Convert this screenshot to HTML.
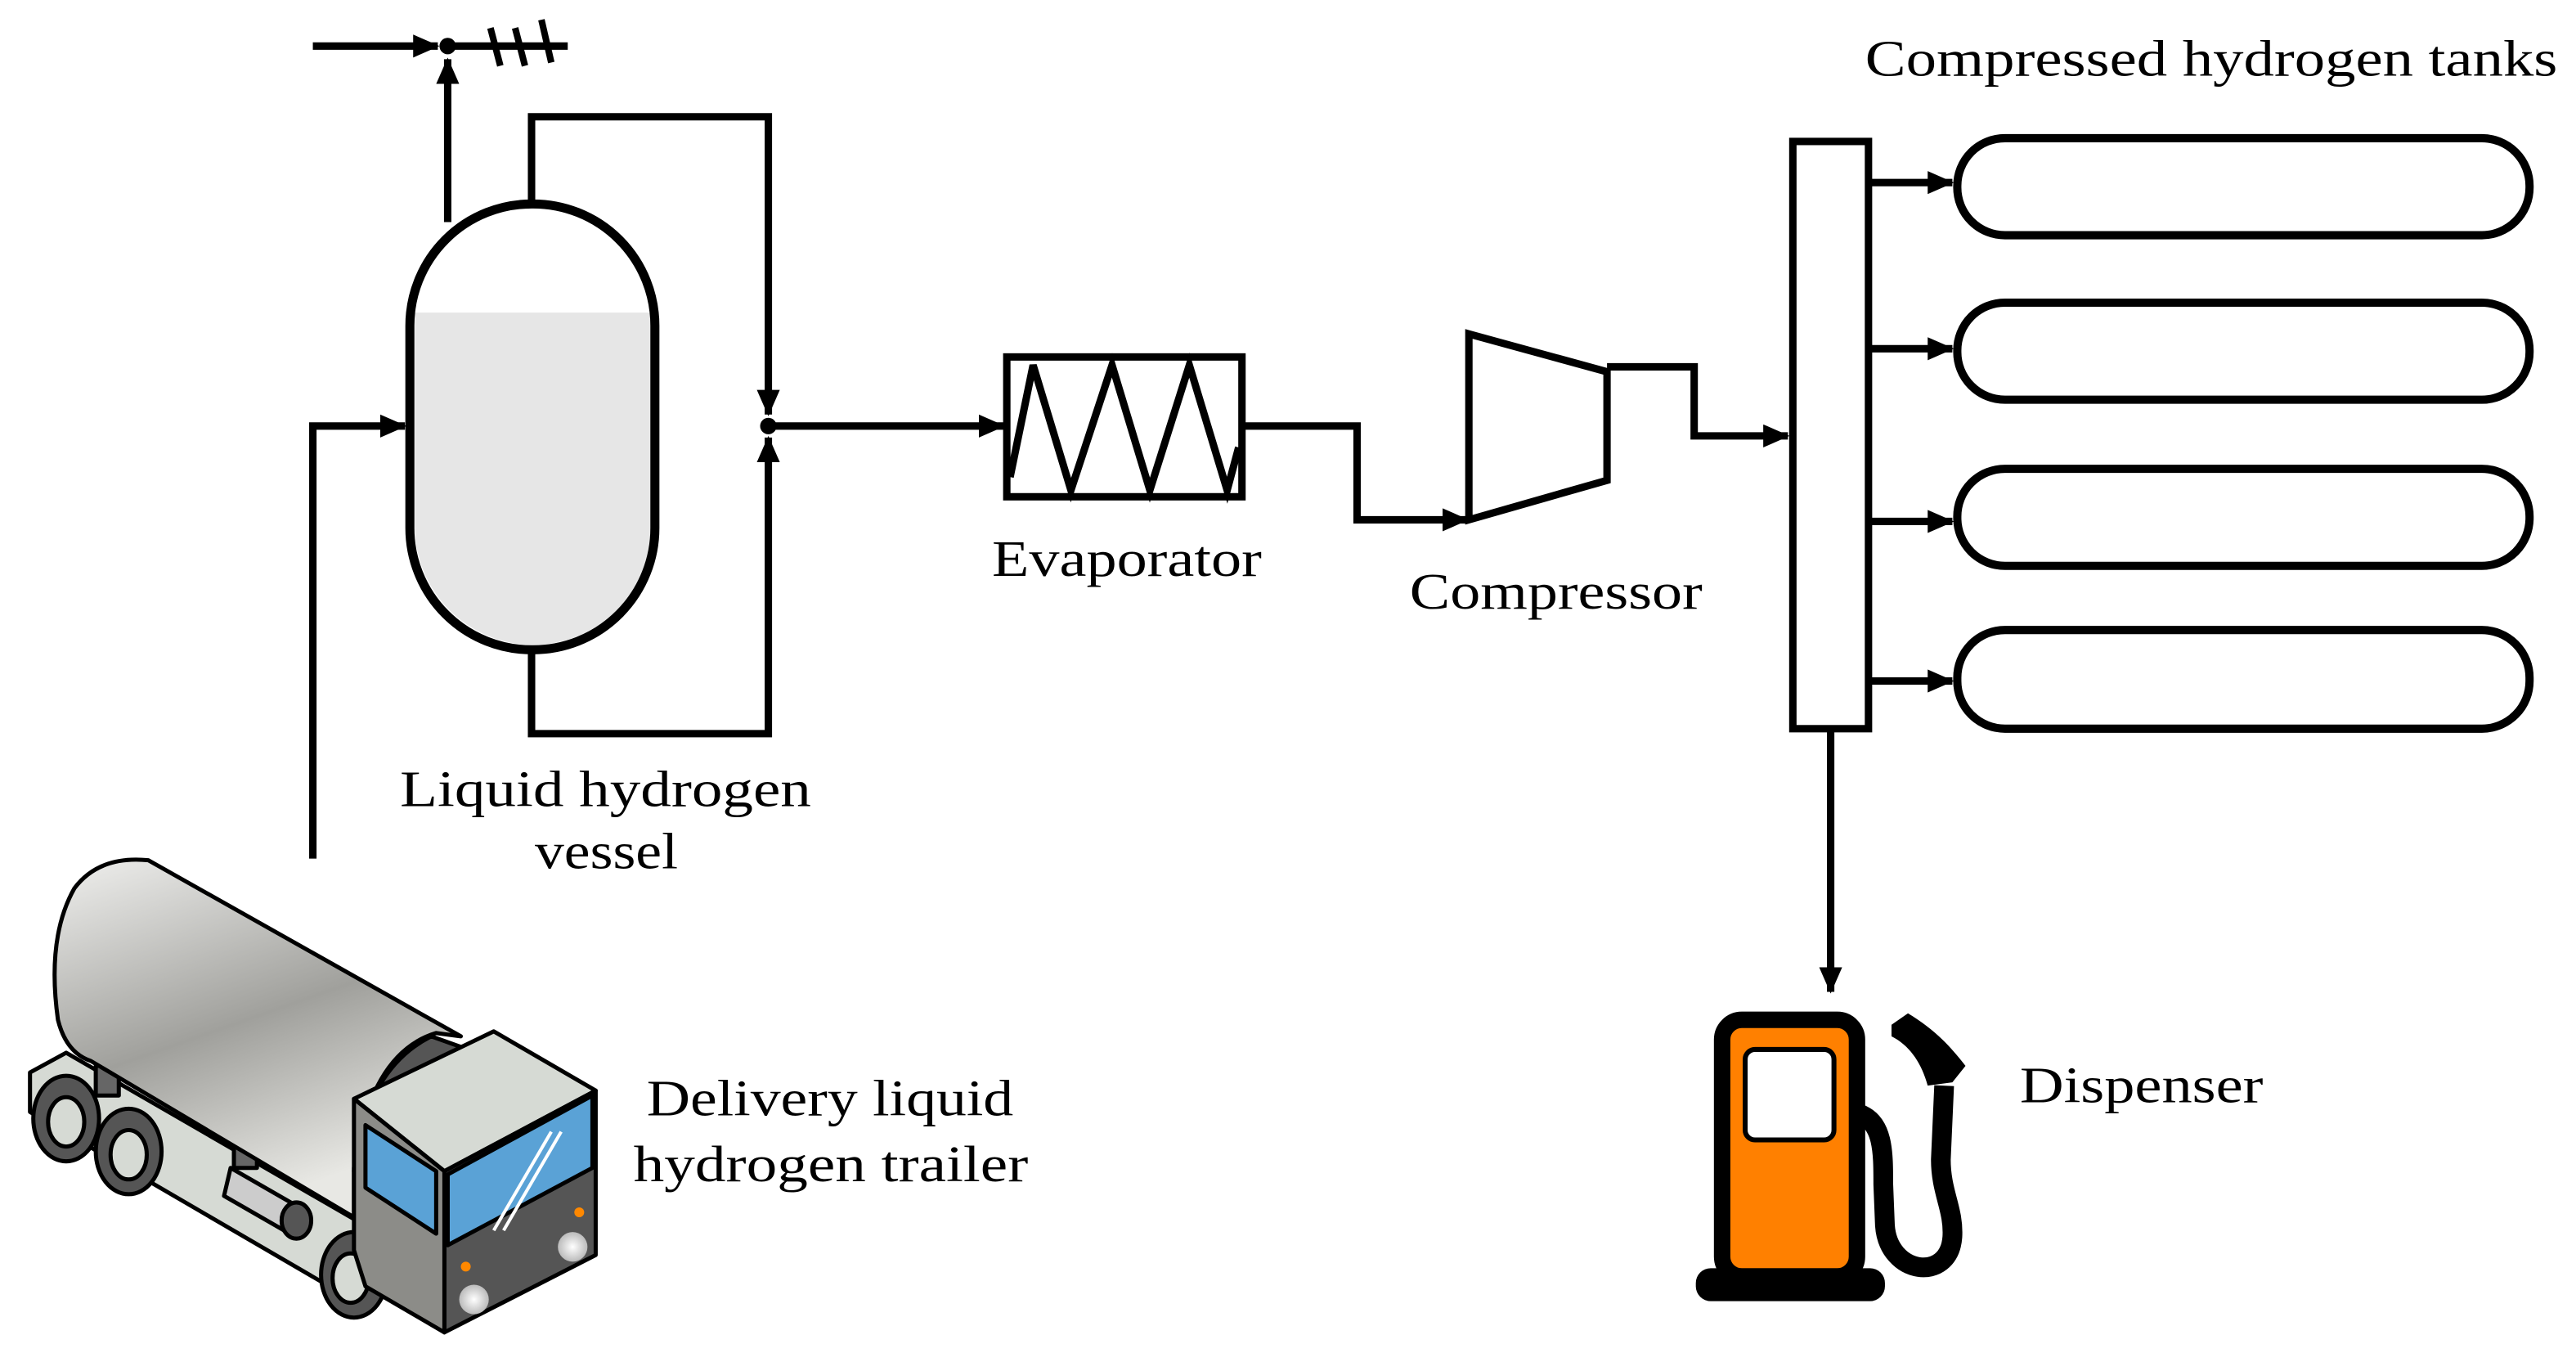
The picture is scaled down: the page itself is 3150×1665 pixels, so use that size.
<!DOCTYPE html>
<html><head><meta charset="utf-8"><style>
html,body{margin:0;padding:0;background:#fff;}
svg{display:block;}
text{font-family:"Liberation Serif",serif;font-size:31px;fill:#000;}
</style></head><body>
<svg width="3150" height="1665" viewBox="0 0 1566 828" xmlns="http://www.w3.org/2000/svg">
<defs>
<marker id="b" markerWidth="16" markerHeight="14" refX="15" refY="7" orient="auto" markerUnits="userSpaceOnUse" viewBox="0 0 16 14"><path d="M0,0 L16,7 L0,14 z" fill="#000"/></marker>
<linearGradient id="tg" x1="0" y1="0" x2="0.4" y2="1"><stop offset="0" stop-color="#f0f0ee"/><stop offset="0.55" stop-color="#a0a09c"/><stop offset="1" stop-color="#e8e8e4"/></linearGradient>
<radialGradient id="hl"><stop offset="0" stop-color="#fff"/><stop offset="1" stop-color="#bbb"/></radialGradient>
</defs>
<g fill="none" stroke="#000" stroke-width="4.5">
<path d="M252,190 H396 V320 A72,72 0 0 1 252,320 Z" fill="#e6e6e6" stroke="none"/>
<rect x="249" y="124" width="149" height="271" rx="74" stroke-width="5.5"/>
<line x1="272" y1="135" x2="272" y2="36" marker-end="url(#b)"/>
<line x1="190" y1="28" x2="266" y2="28" marker-end="url(#b)"/>
<line x1="272" y1="28" x2="345" y2="28"/>
<line x1="298" y1="17" x2="304" y2="40" stroke-width="4"/>
<line x1="313" y1="17" x2="319" y2="40" stroke-width="4"/>
<line x1="329" y1="12" x2="335" y2="38" stroke-width="4"/>
<circle cx="272" cy="28" r="5" fill="#000" stroke="none"/>
<polyline points="323,124 323,71 467,71 467,252" marker-end="url(#b)"/>
<polyline points="323,395 323,446 467,446 467,266" marker-end="url(#b)"/>
<circle cx="467" cy="259" r="5" fill="#000" stroke="none"/>
<line x1="467" y1="259" x2="610" y2="259" marker-end="url(#b)"/>
<polyline points="190,522 190,259 246,259" marker-end="url(#b)"/>
<rect x="612" y="217" width="143" height="85"/>
<polyline points="614,290 628,222 651,298 676,222 699,298 723,222 746,298 753,272"/>
<polyline points="755,259 825,259 825,316 892,316" marker-end="url(#b)"/>
<polygon points="893,203 977,226 977,292 893,316"/>
<polyline points="977,223 1030,223 1030,265 1087,265" marker-end="url(#b)"/>
<rect x="1090" y="86" width="46" height="357"/>
<line x1="1136" y1="111" x2="1187" y2="111" marker-end="url(#b)"/>
<line x1="1136" y1="212" x2="1187" y2="212" marker-end="url(#b)"/>
<line x1="1136" y1="317" x2="1187" y2="317" marker-end="url(#b)"/>
<line x1="1136" y1="414" x2="1187" y2="414" marker-end="url(#b)"/>
<rect x="1190" y="84" width="348" height="59" rx="29" stroke-width="5"/>
<rect x="1190" y="184" width="348" height="59" rx="29" stroke-width="5"/>
<rect x="1190" y="285" width="348" height="59" rx="29" stroke-width="5"/>
<rect x="1190" y="383" width="348" height="60" rx="29" stroke-width="5"/>
<line x1="1113" y1="443" x2="1113" y2="603" marker-end="url(#b)"/>
</g>
<rect x="1047" y="620" width="82" height="156" rx="12" fill="#ff8000" stroke="#000" stroke-width="10"/>
<rect x="1061" y="638" width="54" height="55" rx="6" fill="#fff" stroke="#000" stroke-width="3"/>
<rect x="1031" y="771" width="115" height="20" rx="9" fill="#000"/>
<path d="M1130,677 C1145,682 1145,700 1145,720 L1146,745 C1148,775 1185,780 1187,752 C1188,735 1180,725 1180,705 L1182,660" fill="none" stroke="#000" stroke-width="12"/>
<path d="M1150,623 L1160,616 C1175,625 1185,635 1195,648 L1187,658 L1172,660 C1168,645 1160,635 1150,630 Z" fill="#000"/>
<g stroke="#000" stroke-width="2.5" stroke-linejoin="round">
<polygon points="18,652 40,640 220,744 220,770 200,782 18,676" fill="#d6dad4"/>
<ellipse cx="40" cy="680" rx="20" ry="26" fill="#555"/><ellipse cx="40" cy="682" rx="11" ry="15" fill="#d6dad4"/>
<ellipse cx="78" cy="700" rx="20" ry="26" fill="#555"/><ellipse cx="78" cy="702" rx="11" ry="15" fill="#d6dad4"/>
<rect x="58" y="648" width="14" height="18" fill="#666"/>
<rect x="142" y="692" width="14" height="18" fill="#666"/>
<path d="M140,710 L180,733 L176,750 L136,727 Z" fill="#ccc"/>
<ellipse cx="180" cy="742" rx="9" ry="11" fill="#555"/>
<path d="M90,523 Q60,520 45,540 Q28,570 35,620 Q40,640 55,645 L215,740 L215,710 Q225,640 265,628 L280,630 Z" fill="url(#tg)"/>
<path d="M262,630 Q222,650 215,712 L270,706 L290,640 Z" fill="#555"/>
<ellipse cx="215" cy="775" rx="20" ry="26" fill="#555"/><ellipse cx="213" cy="777" rx="11" ry="15" fill="#d6dad4"/>
<polygon points="215,668 300,627 362,663 270,712" fill="#d6dad4"/>
<polygon points="270,712 362,663 362,763 270,810" fill="#555"/>
<polygon points="215,668 270,712 270,810 222,782 215,760" fill="#8c8c88"/>
<polygon points="272,714 360,666 360,710 272,757" fill="#5aa2d6"/>
<polygon points="222,684 265,712 265,750 222,722" fill="#5aa2d6"/>
</g>
<line x1="300" y1="748" x2="335" y2="688" stroke="#fff" stroke-width="2"/>
<line x1="306" y1="748" x2="341" y2="688" stroke="#fff" stroke-width="2"/>
<circle cx="288" cy="790" r="9" fill="url(#hl)"/><circle cx="348" cy="758" r="9" fill="url(#hl)"/>
<circle cx="283" cy="770" r="3" fill="#f80"/><circle cx="352" cy="737" r="3" fill="#f80"/>
<text x="1134" y="46" textLength="421" lengthAdjust="spacingAndGlyphs">Compressed hydrogen tanks</text>
<text x="603" y="350" textLength="164" lengthAdjust="spacingAndGlyphs">Evaporator</text>
<text x="857" y="370" textLength="178" lengthAdjust="spacingAndGlyphs">Compressor</text>
<text x="243" y="490" textLength="250" lengthAdjust="spacingAndGlyphs">Liquid hydrogen</text>
<text x="325" y="528" textLength="87" lengthAdjust="spacingAndGlyphs">vessel</text>
<text x="393" y="678" textLength="223" lengthAdjust="spacingAndGlyphs">Delivery liquid</text>
<text x="385" y="718" textLength="240" lengthAdjust="spacingAndGlyphs">hydrogen trailer</text>
<text x="1228" y="670" textLength="148" lengthAdjust="spacingAndGlyphs">Dispenser</text>
</svg>
</body></html>
